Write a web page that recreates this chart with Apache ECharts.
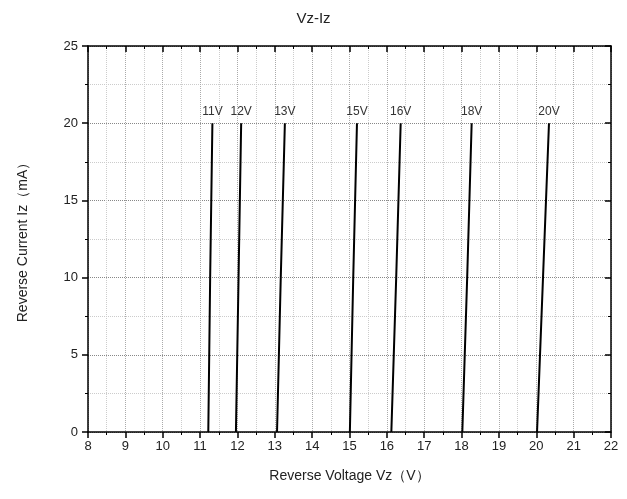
<!DOCTYPE html>
<html><head><meta charset="utf-8">
<script src="https://cdn.jsdelivr.net/npm/echarts@6/dist/echarts.min.js"></script>
<style>html,body{margin:0;padding:0;background:#fff}#c{width:627px;height:499px}</style>
</head><body><div id="c"></div>
<script>
var seriesNames = ['11V','12V','13V','15V','16V','18V','20V'];
var currentPoints = [0, 10, 20];
var v11 = [11.22, 11.27, 11.33];
var v12 = [11.96, 12.03, 12.10];
var v13 = [13.06, 13.16, 13.27];
var v15 = [15.01, 15.10, 15.20];
var v16 = [16.12, 16.25, 16.37];
var v18 = [18.02, 18.15, 18.27];
var v20 = [20.02, 20.18, 20.34];
var voltages = [v11, v12, v13, v15, v16, v18, v20];

var font = 'Liberation Sans, Arial, sans-serif';
var series = seriesNames.map(function(name, i){
  var vs = voltages[i];
  var data = vs.map(function(v, j){ return [v, currentPoints[j]]; });
  var last = data[data.length - 1];
  return {name:name, type:'line', data:data, symbol:'none', showSymbol:false,
    lineStyle:{color:'#000', width:2}, silent:true, z:5,
    markPoint:{
      symbol:'circle', symbolSize:1, silent:true,
      itemStyle:{color:'rgba(0,0,0,0)'},
      label:{show:true, position:'top', distance:5, color:'#333', fontSize:12, fontFamily:font, formatter:name},
      data:[{coord:last}]
    }};
});

var chart = echarts.init(document.getElementById('c'));
chart.setOption({
  animation:false,
  backgroundColor:'#fff',
  title:{text:'Vz-Iz', left:'center', top:6, textStyle:{fontSize:15, fontWeight:'normal', color:'#222', fontFamily:font}},
  grid:{left:88, right:16, top:46, bottom:67, containLabel:false},
  xAxis:[{
    type:'value', min:8, max:22, interval:1, position:'bottom',
    name:'Reverse Voltage Vz（V）', nameLocation:'middle', nameGap:37,
    nameTextStyle:{fontSize:14, color:'#222', fontFamily:font},
    axisLine:{show:true, onZero:false, lineStyle:{color:'#000', width:1.5}},
    axisTick:{show:true, inside:false, length:6, lineStyle:{color:'#000', width:1.5}},
    minorTick:{show:true, splitNumber:2, length:3, lineStyle:{color:'#000', width:1}},
    axisLabel:{fontSize:13, color:'#222', fontFamily:font, margin:8},
    splitLine:{show:true, lineStyle:{type:'dotted', color:'#aaa', width:1}},
    minorSplitLine:{show:true, lineStyle:{type:'dotted', color:'#ccc', width:1}}
  },{
    type:'value', min:8, max:22, interval:1, position:'top',
    axisLine:{show:true, onZero:false, lineStyle:{color:'#000', width:1.5}},
    axisTick:{show:true, inside:true, length:6, lineStyle:{color:'#000', width:1.5}},
    minorTick:{show:true, splitNumber:2, length:3, lineStyle:{color:'#000', width:1}},
    axisLabel:{show:false}, splitLine:{show:false}
  }],
  yAxis:[{
    type:'value', min:0, max:25, interval:5, position:'left',
    name:'Reverse Current Iz（mA）', nameLocation:'middle', nameGap:58, nameRotate:90,
    nameTextStyle:{fontSize:14, color:'#222', fontFamily:font},
    axisLine:{show:true, onZero:false, lineStyle:{color:'#000', width:1.5}},
    axisTick:{show:true, inside:false, length:6, lineStyle:{color:'#000', width:1.5}},
    minorTick:{show:true, splitNumber:2, length:3, lineStyle:{color:'#000', width:1}},
    axisLabel:{fontSize:13, color:'#222', fontFamily:font, margin:10},
    splitLine:{show:true, lineStyle:{type:'dotted', color:'#888', width:1}},
    minorSplitLine:{show:true, lineStyle:{type:'dotted', color:'#ccc', width:1}}
  },{
    type:'value', min:0, max:25, interval:5, position:'right',
    axisLine:{show:true, onZero:false, lineStyle:{color:'#000', width:1.5}},
    axisTick:{show:true, inside:true, length:6, lineStyle:{color:'#000', width:1.5}},
    minorTick:{show:true, splitNumber:2, length:3, lineStyle:{color:'#000', width:1}},
    axisLabel:{show:false}, splitLine:{show:false}
  }],
  series:series
});
</script></body></html>
